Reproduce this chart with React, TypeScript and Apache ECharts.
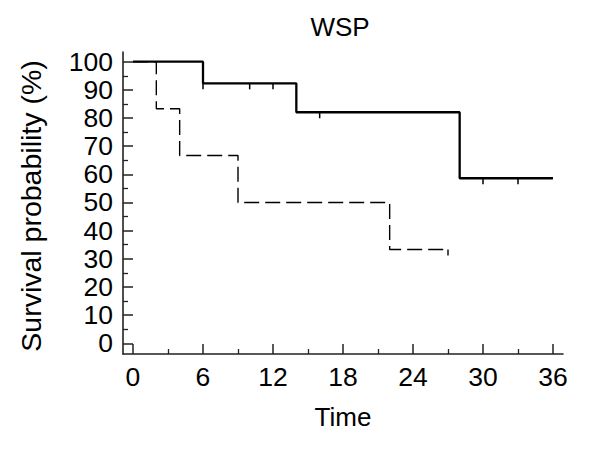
import React, { useEffect, useRef } from "react";
import * as echarts from "echarts";

const titleText = "WSP";
const xName = "Time";
const yName = "Survival probability (%)";

const xTicks = [0, 6, 12, 18, 24, 30, 36];
const xMinorTicks = [3, 9, 15, 21, 27, 33];
const yTicks = [0, 10, 20, 30, 40, 50, 60, 70, 80, 90, 100];
const yMinorTicks = [5, 15, 25, 35, 45, 55, 65, 75, 85, 95];

const solidTimes = [0, 6, 14, 28, 36];
const solidSurv = [100, 92.3, 82.05, 58.6, 58.6];
const dashedTimes = [0, 2, 4, 9, 22, 27];
const dashedSurv = [100, 83.3, 66.7, 50, 33.3, 33.3];

const solidCensorTimes = [6, 10, 12, 16, 30, 33];
const solidCensorSurv = [92.3, 92.3, 92.3, 82.05, 58.6, 58.6];
const dashedCensorTimes = [27];
const dashedCensorSurv = [33.3];

const X_MIN = -0.857;
const X_MAX = 36.857;
const Y_MIN = -3.8;
const Y_MAX = 103.44;

const FONT = "'Liberation Sans', Arial, sans-serif";
const AXIS_COLOR = "#222";

function zip(a: number[], b: number[]) {
  return a.map((v, i) => [v, b[i]]);
}

export default function App() {
  const ref = useRef<HTMLDivElement>(null);

  useEffect(() => {
    if (!ref.current) return;
    const chart = echarts.init(ref.current, undefined, { renderer: "svg" });

    const censorRender = (lw: number) => (params: any, api: any) => {
      const p = api.coord([api.value(0), api.value(1)]);
      return {
        type: "line",
        shape: { x1: p[0], y1: p[1], x2: p[0], y2: p[1] + 6 },
        style: { stroke: "#000", lineWidth: lw },
      };
    };

    chart.setOption({
      animation: false,
      backgroundColor: "#fff",
      grid: { left: 123, top: 52, right: 37, bottom: 96 },
      xAxis: [
        {
          type: "value",
          min: X_MIN,
          max: X_MAX,
          position: "bottom",
          axisLine: { show: true, onZero: false, lineStyle: { color: AXIS_COLOR, width: 1.6 } },
          axisTick: { show: true, inside: true, length: 10, customValues: xTicks, lineStyle: { color: AXIS_COLOR, width: 1.5 } },
          axisLabel: { show: true, customValues: xTicks, fontSize: 26.5, fontFamily: FONT, color: "#000", margin: 9 },
          splitLine: { show: false },
        },
        {
          type: "value",
          min: X_MIN,
          max: X_MAX,
          position: "bottom",
          axisLine: { show: false, onZero: false },
          axisTick: { show: true, inside: true, length: 5, customValues: xMinorTicks, lineStyle: { color: AXIS_COLOR, width: 1.3 } },
          axisLabel: { show: false },
          splitLine: { show: false },
        },
      ],
      yAxis: [
        {
          type: "value",
          min: Y_MIN,
          max: Y_MAX,
          position: "left",
          axisLine: { show: true, onZero: false, lineStyle: { color: AXIS_COLOR, width: 1.6 } },
          axisTick: { show: true, inside: true, length: 10, customValues: yTicks, lineStyle: { color: AXIS_COLOR, width: 1.5 } },
          axisLabel: { show: true, customValues: yTicks, fontSize: 26.5, fontFamily: FONT, color: "#000", margin: 10 },
          splitLine: { show: false },
        },
        {
          type: "value",
          min: Y_MIN,
          max: Y_MAX,
          position: "left",
          axisLine: { show: false, onZero: false },
          axisTick: { show: true, inside: true, length: 5, customValues: yMinorTicks, lineStyle: { color: AXIS_COLOR, width: 1.3 } },
          axisLabel: { show: false },
          splitLine: { show: false },
        },
      ],
      graphic: [
        {
          type: "text",
          x: 340,
          y: 27,
          style: { text: titleText, font: `26px ${FONT}`, fill: "#000", textAlign: "center", textVerticalAlign: "middle" },
        },
        {
          type: "text",
          x: 343,
          y: 417,
          style: { text: xName, font: `26px ${FONT}`, fill: "#000", textAlign: "center", textVerticalAlign: "middle" },
        },
        {
          type: "text",
          x: 31,
          y: 206,
          rotation: Math.PI / 2,
          style: { text: yName, font: `28.5px ${FONT}`, fill: "#000", textAlign: "center", textVerticalAlign: "middle" },
        },
      ],
      series: [
        {
          type: "line",
          step: "end",
          xAxisIndex: 0,
          yAxisIndex: 0,
          data: zip(dashedTimes, dashedSurv),
          symbol: "none",
          lineStyle: { color: "#000", width: 1.4, type: [15, 6] },
          z: 3,
        },
        {
          type: "line",
          step: "end",
          xAxisIndex: 0,
          yAxisIndex: 0,
          data: zip(solidTimes, solidSurv),
          symbol: "none",
          lineStyle: { color: "#000", width: 2.3 },
          z: 4,
        },
        {
          type: "custom",
          xAxisIndex: 0,
          yAxisIndex: 0,
          data: zip(solidCensorTimes, solidCensorSurv),
          renderItem: censorRender(1.5),
          z: 5,
        },
        {
          type: "custom",
          xAxisIndex: 0,
          yAxisIndex: 0,
          data: zip(dashedCensorTimes, dashedCensorSurv),
          renderItem: censorRender(1.4),
          z: 5,
        },
      ],
    });

    return () => chart.dispose();
  }, []);

  return (
    <div
      ref={ref}
      style={{ position: "fixed", left: 0, top: 0, width: 600, height: 450, background: "#fff" }}
    />
  );
}
